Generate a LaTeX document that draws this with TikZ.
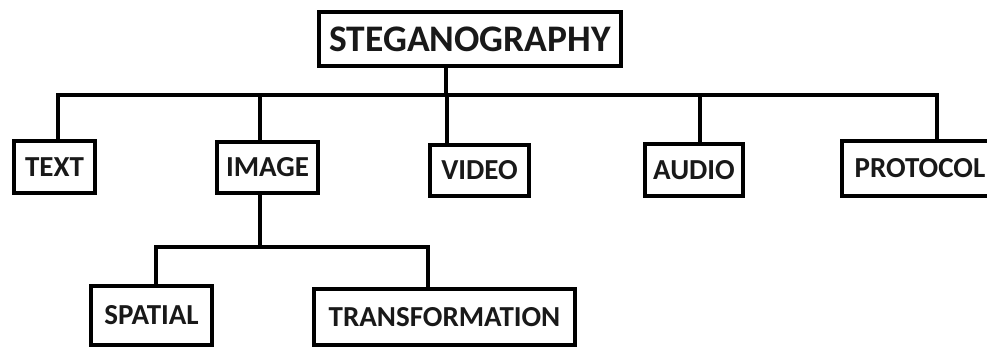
\documentclass[tikz,border=0pt]{standalone}
\usepackage{fontspec}
\setmainfont{Carlito}
\begin{document}
\begin{tikzpicture}[x=1pt,y=-1pt,
  box/.style={draw=black,line width=4pt,fill=white,inner sep=0pt,font=\fontsize{29}{31}\selectfont\bfseries,text=black!90},
  conn/.style={draw=black,line width=4pt,line cap=rect}]
\useasboundingbox (0,0) rectangle (987,349);
\clip (0,0) rectangle (987,349);
\fill[white] (0,0) rectangle (987,349);
% nodes
\node[box,minimum width=302pt,minimum height=54pt,font=\fontsize{37.5}{40}\selectfont\bfseries] (steg) at (470,39) {STEGANOGRAPHY};
\node[box,minimum width=81pt,minimum height=52pt] (text) at (54.5,167) {TEXT};
\node[box,minimum width=101pt,minimum height=51pt] (image) at (267.5,167.5) {IMAGE};
\node[box,minimum width=99pt,minimum height=51pt] (video) at (479.5,170.5) {VIDEO};
\node[box,minimum width=98pt,minimum height=52pt] (audio) at (694,170) {AUDIO};
\node[box,minimum width=156pt,minimum height=55pt] (protocol) at (920,168.5) {PROTOCOL};
\node[box,minimum width=121pt,minimum height=59pt] (spatial) at (151.5,315.5) {SPATIAL};
\node[box,minimum width=261pt,minimum height=56pt] (trans) at (444.5,317) {TRANSFORMATION};
% bus coordinates
\coordinate (bS) at (446,95);
\coordinate (bT) at (58,95);
\coordinate (bI) at (260,95);
\coordinate (bV) at (447,95);
\coordinate (bA) at (700,95);
\coordinate (bP) at (937,95);
\coordinate (iS) at (156,247);
\coordinate (iC) at (260,247);
\coordinate (iT) at (428,247);
% connectors
\draw[conn] (steg.south -| bS) -- (bS);
\draw[conn] (bT) -- (bP);
\draw[conn] (bT) -- (bT |- text.north);
\draw[conn] (bI) -- (bI |- image.north);
\draw[conn] (bV) -- (bV |- video.north);
\draw[conn] (bA) -- (bA |- audio.north);
\draw[conn] (bP) -- (bP |- protocol.north);
\draw[conn] (image.south -| iC) -- (iC);
\draw[conn] (iS) -- (iT);
\draw[conn] (iS) -- (iS |- spatial.north);
\draw[conn] (iT) -- (iT |- trans.north);
\end{tikzpicture}
\end{document}
